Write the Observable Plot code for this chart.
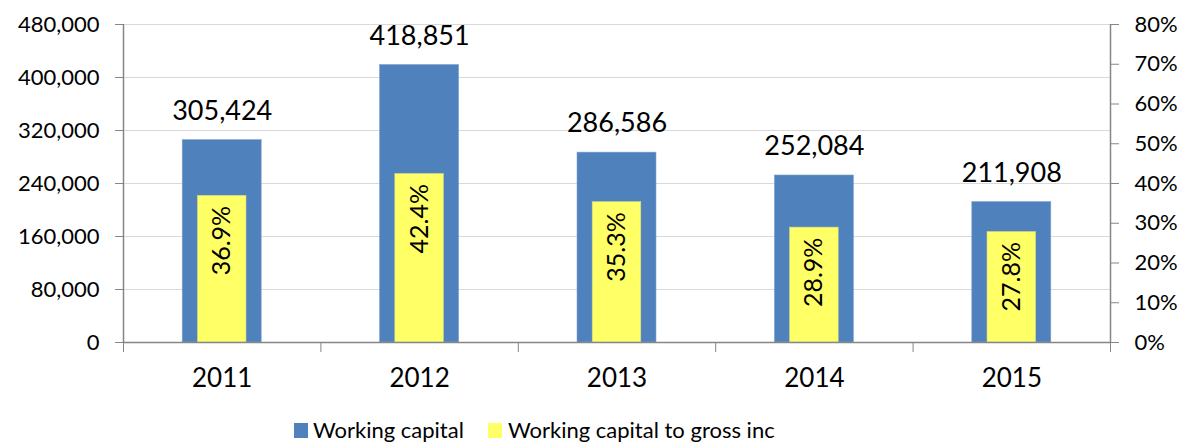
<!DOCTYPE html>
<html><head><meta charset="utf-8">
<script src="https://cdn.jsdelivr.net/npm/d3@7"></script>
<script src="https://cdn.jsdelivr.net/npm/@observablehq/plot@0.6"></script>
<style>
body{margin:0;background:#fff;font-family:Lato,sans-serif;}
#wrap{position:relative;width:1182px;height:446px;overflow:hidden;}
.sw{position:absolute;top:423px;width:14px;height:15px;}
.lt{position:absolute;white-space:nowrap;line-height:1;color:#000;}
</style>
</head><body>
<div id="wrap"><div id="chart"></div>
<div class="sw" style="left:294px;background:#4f81bd"></div>
<div class="lt" style="left:313px;top:419px;font-size:22px">Working capital</div>
<div class="sw" style="left:488px;background:#ffff66"></div>
<div class="lt" style="left:508px;top:419px;font-size:22px">Working capital to gross inc</div>
</div>
<script>
const years = ["2011", "2012", "2013", "2014", "2015"];
const workingCapital = [305424, 418851, 286586, 252084, 211908];
const ratioPct = [36.9, 42.4, 35.3, 28.9, 27.8];
const leftTicks = [0, 80000, 160000, 240000, 320000, 400000, 480000];
const rightTicks = [0, 10, 20, 30, 40, 50, 60, 70, 80];

const k = 480000 / 80; // percent -> left-axis units (80% at top)
const data = years.map((y, i) => ({i, year: y, wc: workingCapital[i], pct: ratioPct[i]}));
const fmt = d3.format(",");
const axisColor = "#868686";

const chart = Plot.plot({
  width: 1182,
  height: 400,
  marginLeft: 123,
  marginRight: 72,
  marginTop: 24,
  marginBottom: 58,
  style: {fontFamily: "Lato, sans-serif", fontSize: "22px", color: "#000", background: "#fff"},
  x: {type: "linear", domain: [-0.5, 4.5], axis: null},
  y: {domain: [0, 480000], axis: null},
  marks: [
    Plot.ruleY(leftTicks.filter(t => t > 0), {stroke: "#d9d9d9", strokeWidth: 1.2}),
    Plot.rectY(data, {x1: d => d.i - 0.2, x2: d => d.i + 0.2, y1: () => 0, y2: "wc", fill: "#4f81bd", stroke: "#7ba0cf", strokeWidth: 0.6}),
    Plot.rectY(data, {x1: d => d.i - 0.123, x2: d => d.i + 0.123, y1: () => 0, y2: d => d.pct * k, fill: "#ffff66", stroke: "#d6d68a", strokeWidth: 0.6}),
    Plot.ruleY([0], {stroke: axisColor, strokeWidth: 1.5}),
    Plot.ruleX([-0.5, 4.5], {y1: () => 0, y2: () => 480000, stroke: axisColor, strokeWidth: 1.5}),
    Plot.axisY(leftTicks, {anchor: "left", label: null, tickSize: 8, tickPadding: 16, stroke: axisColor, tickFormat: fmt, fontSize: 22}),
    Plot.axisY(rightTicks.map(p => p * k), {anchor: "right", label: null, tickSize: 8, tickPadding: 16, stroke: axisColor, tickFormat: d => Math.round(d / k) + "%", fontSize: 22}),
    Plot.axisX([-0.5, 0.5, 1.5, 2.5, 3.5, 4.5], {anchor: "bottom", label: null, tickSize: 10, stroke: axisColor, tickFormat: () => ""}),
    Plot.axisX([0, 1, 2, 3, 4], {anchor: "bottom", label: null, tickSize: 0, tickPadding: 26, tickFormat: i => years[i], fontSize: 26}),
    Plot.text(data, {x: "i", y: "wc", text: d => fmt(d.wc), dy: -29, fontSize: 27, lineAnchor: "middle"}),
    Plot.text(data, {x: "i", y: d => d.pct * k, text: d => d.pct.toFixed(1) + "%", rotate: -90, textAnchor: "end", lineAnchor: "middle", dy: 10, fontSize: 25})
  ]
});
document.getElementById("chart").appendChild(chart);
</script>
</body></html>
